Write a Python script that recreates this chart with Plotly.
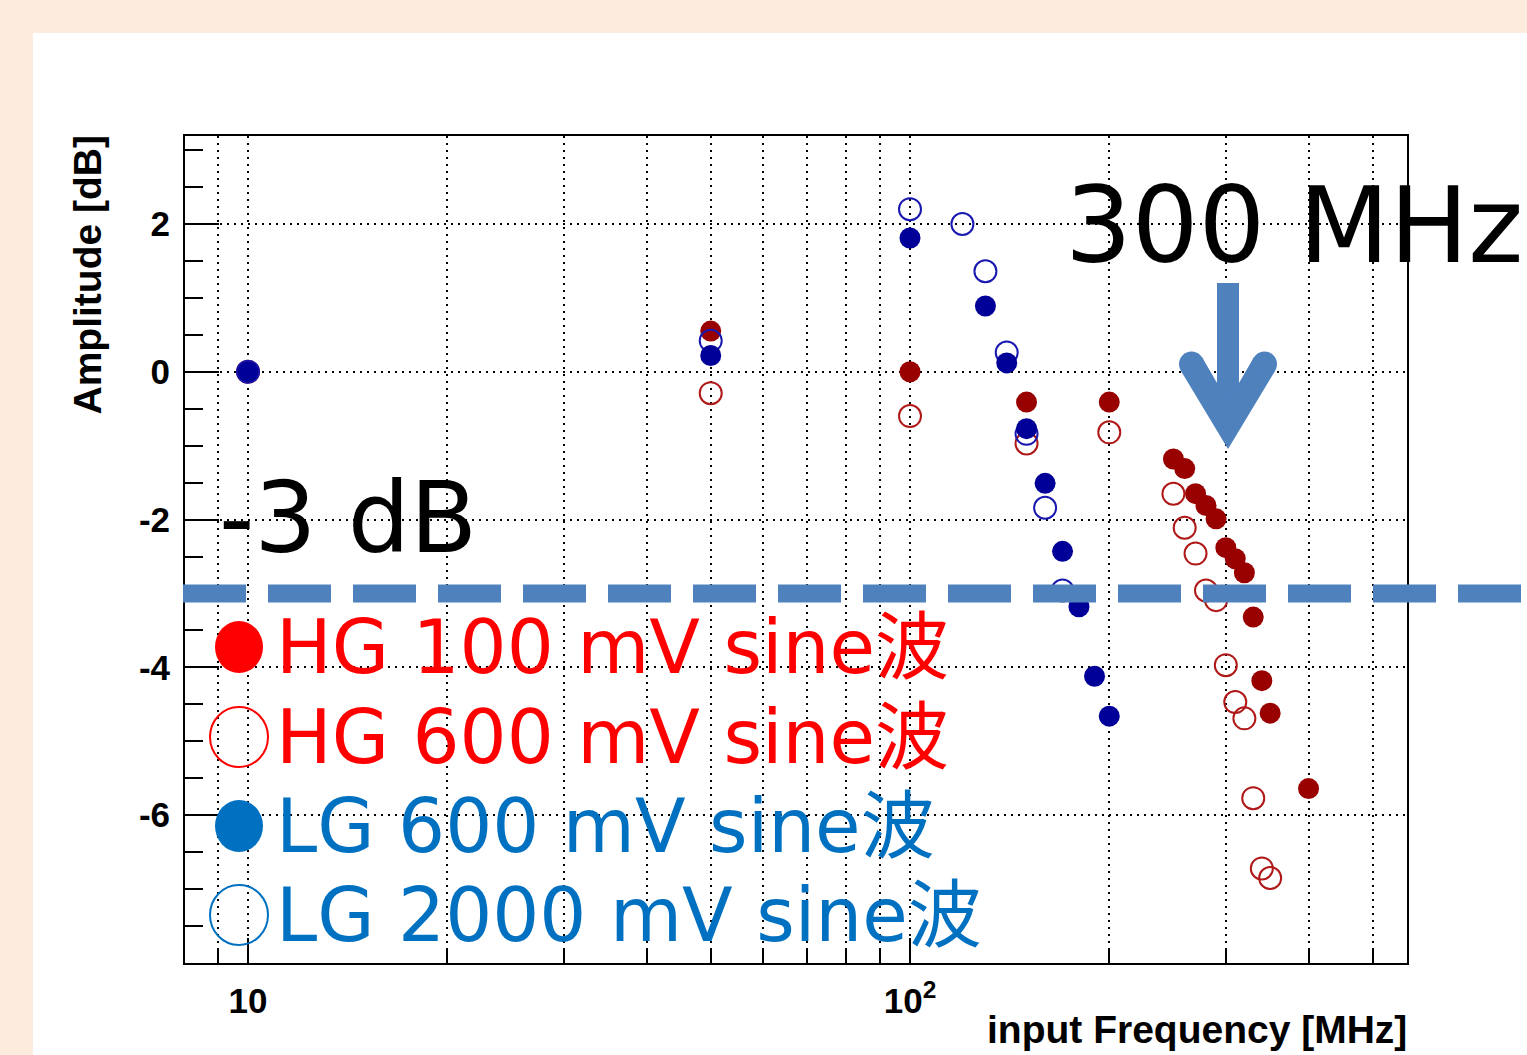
import plotly.graph_objects as go

# ---------------- data ----------------
freq_hg100 = [10, 50, 100, 150, 200, 250, 260, 270, 280, 290, 300, 310, 320, 330, 340, 350, 400]
amp_hg100 = [0.0, 0.55, 0.0, -0.41, -0.41, -1.18, -1.31, -1.65, -1.81, -1.99, -2.38, -2.53, -2.72, -3.32, -4.18, -4.62, -5.64]

freq_hg600 = [10, 50, 100, 150, 200, 250, 260, 270, 280, 290, 300, 310, 320, 330, 340, 350]
amp_hg600 = [0.0, -0.29, -0.60, -0.97, -0.82, -1.65, -2.11, -2.46, -2.96, -3.09, -3.97, -4.47, -4.69, -5.77, -6.72, -6.85]

freq_lg600 = [10, 50, 100, 130, 140, 150, 160, 170, 180, 190, 200]
amp_lg600 = [0.0, 0.22, 1.81, 0.89, 0.12, -0.77, -1.51, -2.43, -3.18, -4.12, -4.66]

freq_lg2000 = [10, 50, 100, 120, 130, 140, 150, 160, 170]
amp_lg2000 = [0.0, 0.42, 2.20, 2.00, 1.36, 0.26, -0.84, -1.84, -2.96]

x_major_ticks = [10, 100]
x_major_text = ["10", "10<sup>2</sup>"]
x_minor_ticks = [9, 20, 30, 40, 50, 60, 70, 80, 90, 200, 300, 400, 500]
y_ticks = [-6, -4, -2, 0, 2]
y_tick_text = ["-6", "-4", "-2", "0", "2"]

legend_labels = ["HG 100 mV sine波", "HG 600 mV sine波", "LG 600 mV sine波", "LG 2000 mV sine波"]
legend_colors = ["#FF0000", "#FF0000", "#0070C0", "#0070C0"]
legend_filled = [True, False, True, False]

cutoff_db = -3
# ----------------------------------------------------------------

FIG_W, FIG_H = 1527, 1055
L, R, T, B = 185, 120, 136, 92
PW, PH = FIG_W - L - R, FIG_H - T - B


def px(x):
    return (x - L) / PW


def py(y):
    return (T + PH - y) / PH


DARK_RED = "#990000"
DARK_BLUE = "#000099"
ACCENT = "#4F81BD"
TICK_FONT = dict(family="Liberation Sans, Arial, sans-serif", size=35, color="black", weight="bold")
BIG_FONT = "DejaVu Sans, Noto Sans CJK JP, sans-serif"

fig = go.Figure()
fig.add_trace(go.Scatter(x=freq_hg100, y=amp_hg100, mode="markers", name=legend_labels[0],
                         marker=dict(symbol="circle", size=21, color=DARK_RED, line=dict(width=0))))
fig.add_trace(go.Scatter(x=freq_hg600, y=amp_hg600, mode="markers", name=legend_labels[1],
                         marker=dict(symbol="circle-open", size=22, color="#b01818", line=dict(width=2))))
fig.add_trace(go.Scatter(x=freq_lg2000, y=amp_lg2000, mode="markers", name=legend_labels[3],
                         marker=dict(symbol="circle-open", size=22, color="#1818b0", line=dict(width=2))))
fig.add_trace(go.Scatter(x=freq_lg600, y=amp_lg600, mode="markers", name=legend_labels[2],
                         marker=dict(symbol="circle", size=21, color=DARK_BLUE, line=dict(width=0))))

grid = dict(showgrid=True, gridcolor="black", griddash="2px,5px", gridwidth=1.5)

fig.update_xaxes(
    type="log", range=[0.9048, 2.7508],
    tickmode="array", tickvals=x_major_ticks, ticktext=x_major_text,
    ticks="inside", ticklen=25, tickwidth=2, tickcolor="black",
    showline=True, linewidth=2, linecolor="black", mirror=True,
    zeroline=False, tickfont=TICK_FONT, ticklabelstandoff=6,
    minor=dict(tickmode="array", tickvals=x_minor_ticks, ticks="inside", ticklen=13,
               tickwidth=2, tickcolor="black", **grid),
    **grid,
)
fig.update_yaxes(
    range=[-8, 3.19],
    tickmode="array", tickvals=y_ticks, ticktext=y_tick_text,
    ticks="inside", ticklen=34, tickwidth=2, tickcolor="black",
    showline=True, linewidth=2, linecolor="black", mirror=True,
    zeroline=False, tickfont=TICK_FONT, ticklabelstandoff=6,
    minor=dict(tick0=0, dtick=0.5, ticks="inside", ticklen=18, tickwidth=2,
               tickcolor="black", showgrid=False),
    **grid,
)

shapes = []
# white panel on peach background
shapes.append(dict(type="rect", xref="paper", yref="paper", x0=px(33), x1=px(FIG_W + 20),
                   y0=py(FIG_H + 20), y1=py(33), fillcolor="white", line=dict(width=0), layer="below"))
# -3 dB dashed line
shapes.append(dict(type="line", xref="paper", yref="y", x0=px(183), x1=px(FIG_W + 30),
                   y0=cutoff_db, y1=cutoff_db, line=dict(color=ACCENT, width=18, dash="63px,22px")))
# arrow pointing at 300 MHz: shaft
shapes.append(dict(type="rect", xref="paper", yref="paper", x0=px(1217), x1=px(1239),
                   y0=py(425), y1=py(283), fillcolor=ACCENT, line=dict(width=0)))
# arrow head (chevron)
pts = [(1228, 449), (1181, 371), (1202, 357), (1228, 402), (1254, 357), (1275, 371)]
path = "M " + " L ".join(f"{px(a):.5f},{py(b):.5f}" for a, b in pts) + " Z"
shapes.append(dict(type="path", xref="paper", yref="paper", path=path, fillcolor=ACCENT, line=dict(width=0)))
for cx in (1191.5, 1264.5):
    shapes.append(dict(type="circle", xref="paper", yref="paper", x0=px(cx - 12.5), x1=px(cx + 12.5),
                       y0=py(364 + 12.5), y1=py(364 - 12.5), fillcolor=ACCENT, line=dict(width=0)))

# legend symbols + text
row_centers = [647, 737, 826, 915]
annotations = []
for lab, col, filled, yc in zip(legend_labels, legend_colors, legend_filled, row_centers):
    if filled:
        shapes.append(dict(type="circle", xref="paper", yref="paper", x0=px(215), x1=px(263),
                           y0=py(yc + 26), y1=py(yc - 26), fillcolor=col, line=dict(width=0)))
    else:
        shapes.append(dict(type="circle", xref="paper", yref="paper", x0=px(210), x1=px(268),
                           y0=py(yc + 30), y1=py(yc - 30), fillcolor="rgba(0,0,0,0)",
                           line=dict(color=col, width=2)))
    annotations.append(dict(text=lab, xref="paper", yref="paper", x=px(275), y=py(yc),
                            xanchor="left", yanchor="middle", showarrow=False, borderpad=0,
                            font=dict(family=BIG_FONT, size=74, color=col)))

annotations.append(dict(text="300 MHz", xref="paper", yref="paper", x=px(1524), y=py(226),
                        xanchor="right", yanchor="middle", showarrow=False, borderpad=0,
                        font=dict(family=BIG_FONT, size=105, color="black")))
annotations.append(dict(text="-3 dB", xref="paper", yref="paper", x=px(218), y=py(518),
                        xanchor="left", yanchor="middle", showarrow=False, borderpad=0,
                        font=dict(family=BIG_FONT, size=98, color="black")))
annotations.append(dict(text="Amplitude [dB]", xref="paper", yref="paper", x=px(87), y=py(135),
                        xanchor="center", yanchor="top", textangle=-90, showarrow=False, borderpad=0,
                        font=dict(family="Liberation Sans, Arial, sans-serif", size=39, color="black",
                                  weight="bold")))
annotations.append(dict(text="input Frequency [MHz]", xref="paper", yref="paper", x=px(1408), y=py(1029),
                        xanchor="right", yanchor="middle", showarrow=False, borderpad=0,
                        font=dict(family="Liberation Sans, Arial, sans-serif", size=39, color="black",
                                  weight="bold")))

fig.update_layout(
    width=FIG_W, height=FIG_H,
    margin=dict(l=L, r=R, t=T, b=B, autoexpand=False),
    paper_bgcolor="#FDEBDD", plot_bgcolor="white",
    showlegend=False,
    shapes=shapes, annotations=annotations,
)

fig.write_html("out.html")
